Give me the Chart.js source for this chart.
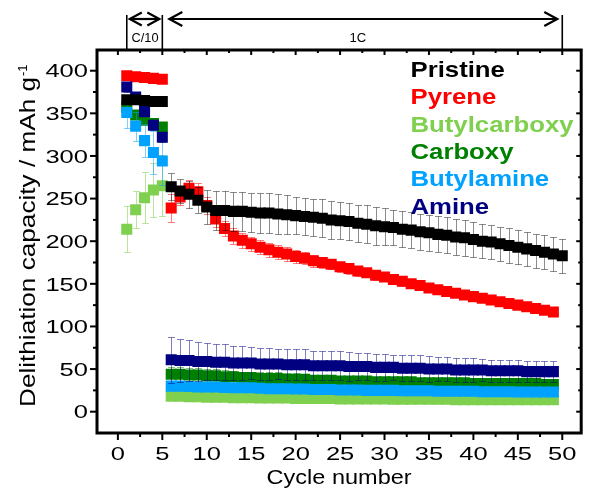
<!DOCTYPE html>
<html><head><meta charset="utf-8">
<script src="https://cdn.jsdelivr.net/npm/chart.js@4.4.1/dist/chart.umd.min.js"></script>
<style>html,body{margin:0;padding:0;background:#fff;}canvas{display:block;}</style>
</head><body>
<canvas id="c" width="589" height="488"></canvas>
<script>
// ---------- data ----------
const cycles = [1,2,3,4,5,6,7,8,9,10,11,12,13,14,15,16,17,18,19,20,21,22,23,24,25,26,27,28,29,30,31,32,33,34,35,36,37,38,39,40,41,42,43,44,45,46,47,48,49,50];

const pristine = [366,366,365,364,364, 264,259,255,248,240, 236,236,235,235,234, 233,233,232,231,230, 229,228,227,225,224, 223,221,220,218,217, 216,214,213,211,210, 208,207,205,204,202, 200,199,197,195,193, 191,189,187,185,183];
const pristineErr = [3,3,3,3,3, 16,14,16,15,20, 23,23,23,23,23, 23,23,23,23,22, 22,22,22,22,22, 22,22,22,22,22, 21,21,21,21,21, 21,21,21,21,21, 20,20,20,20,20, 20,20,20,20,20];

const pyrene = [394,393,392,391,390, 239,252,262,258,242, 226,215,206,201,197, 193,190,187,185,182, 180,177,175,173,170, 168,165,163,160,158, 155,153,150,148,145, 143,141,139,137,135, 133,131,129,127,125, 123,121,119,117];
const pyreneErr = [3,3,3,3,3, 16,10,10,10,10, 9,9,9,9,8, 8,8,8,8,8, 7,7,7,6,6, 6,6,5,5,5, 5,5,5,5,5, 4,4,4,4,4, 4,4,4,4,4, 4,4,4,4];

const butylcarboxy = [214,237,251,260,265, 18,18,17.5,17.5,17, 17,17,16.5,16.5,16.5, 16,16,16,16,15.5, 15.5,15.5,15.5,15.5,15, 15,15,15,15,15, 14.5,14.5,14.5,14.5,14.5, 14.5,14.5,14,14,14, 14,14,14,14,14, 14,14,14,14];
const butylcarboxyErr = [27,22,30,32,36, 2,2,2,2,2, 2,2,2,2,2, 2,2,2,2,2, 2,2,2,2,2, 2,2,2,2,2, 2,2,2,2,2, 2,2,2,2,2, 2,2,2,2,2, 2,2,2,2];

const carboxy = [357,348,342,338,334, 44,44,43,43,42, 42,41,41,40,40, 39,39,39,38,38, 38,37,37,37,36, 36,36,36,35,35, 35,35,35,34,34, 34,34,34,34,33, 33,33,33,33,33, 33,33,32,32];
const carboxyErr = [4,5,5,5,5, 8,8,8,8,8, 8,8,7,7,7, 7,7,7,7,7, 6,6,6,6,6, 6,6,6,6,6, 6,6,6,6,6, 5,5,5,5,5, 5,5,5,5,5, 5,5,5,5];

const butylamine = [351,335,318,304,294, 30,30,29.5,29,29, 29,28.5,28,28,28, 27.5,27,27,27,26.5, 26.5,26,26,26,25.5, 25.5,25.5,25,25,25, 25,24.5,24.5,24.5,24.5, 24,24,24,24,24, 23.5,23.5,23.5,23.5,23, 23,23,23,23];
const butylamineErr = [18,17,19,25,28, 4,4,4,4,4, 4,4,4,4,4, 4,4,4,4,4, 4,4,4,4,4, 4,4,4,4,4, 4,4,4,4,4, 4,4,4,4,4, 4,4,4,4,4, 4,4,4,4];

const amine = [381,369,352,336,322, 61,60,60,59,59, 58,58,57,57,57, 56,56,56,55,55, 55,54,54,54,54, 53,53,53,52,52, 52,51,51,51,50, 50,50,49,49,49, 49,48,48,48,48, 47,47,47,47];
const amineErr = [6,6,5,5,6, 27,25,24,23,22, 21,21,20,20,19, 19,19,18,18,18, 18,17,17,17,17, 17,16,16,16,16, 15,15,15,15,15, 14,14,14,14,14, 13,13,13,13,13, 12,12,12,12];

const legendLabels = ['Pristine','Pyrene','Butylcarboxy','Carboxy','Butylamine','Amine'];
const xTicks = [0,5,10,15,20,25,30,35,40,45,50];
const xMinorTicks = [2.5,7.5,12.5,17.5,22.5,27.5,32.5,37.5,42.5,47.5];
const yTicks = [0,50,100,150,200,250,300,350,400];
const yMinorTicks = [25,75,125,175,225,275,325,375];
const rateBounds = [1,5,50];
const rateLabels = ['C/10','1C'];
const xTitle = 'Cycle number';
const yTitle = 'Delithiation capacity / mAh g';
const yTitleSup = '-1';

// ---------- styling ----------
const COLORS = {
  Pristine: '#000000', Pyrene: '#ff0000', Butylcarboxy: '#80d050',
  Carboxy: '#008000', Butylamine: '#00a2ff', Amine: '#000080'
};
const ERR_COLORS = {
  Pristine: 'rgba(0,0,0,0.45)', Pyrene: 'rgba(255,0,0,0.5)', Butylcarboxy: 'rgba(128,208,80,0.55)',
  Carboxy: 'rgba(0,128,0,0.5)', Butylamine: 'rgba(0,162,255,0.5)', Amine: 'rgba(0,0,128,0.5)'
};
const FONT = '"Liberation Sans", Arial, Helvetica, sans-serif';

function pts(vals) { return vals.map((v, i) => ({x: cycles[i], y: v})); }
function mkDs(label, vals, errs) {
  return {
    label, data: pts(vals), errors: errs,
    backgroundColor: COLORS[label], borderColor: COLORS[label],
    pointBackgroundColor: COLORS[label], pointBorderWidth: 0, pointHoverBorderWidth: 0,
    pointStyle: 'rect', pointRadius: 7.8, pointHoverRadius: 7.8,
    showLine: false
  };
}
// dataset index 0 is drawn on top
const datasets = [
  mkDs('Pristine', pristine, pristineErr),
  mkDs('Amine', amine, amineErr),
  mkDs('Butylamine', butylamine, butylamineErr),
  mkDs('Carboxy', carboxy, carboxyErr),
  mkDs('Butylcarboxy', butylcarboxy, butylcarboxyErr),
  mkDs('Pyrene', pyrene, pyreneErr)
];

function drawStretched(ctx, text, x, y, align, sx) {
  ctx.save(); ctx.translate(x, y); ctx.scale(sx, 1);
  ctx.textAlign = align; ctx.fillText(text, 0, 0); ctx.restore();
}
function drawFit(ctx, text, x, y, align, targetW) {
  const w = ctx.measureText(text).width;
  drawStretched(ctx, text, x, y, align, targetW / w);
}

const errPlugin = {
  id: 'errbars',
  beforeDatasetDraw(chart, args) {
    const ds = chart.data.datasets[args.index];
    if (!ds.errors) return;
    const xs = chart.scales.x, ys = chart.scales.y, ctx = chart.ctx;
    ctx.save();
    ctx.strokeStyle = ERR_COLORS[ds.label]; ctx.lineWidth = 1;
    ds.data.forEach((p, i) => {
      const e = ds.errors[i]; if (!e) return;
      const x = Math.round(xs.getPixelForValue(p.x)) + 0.5;
      const y1 = Math.round(ys.getPixelForValue(p.y + e)) + 0.5;
      const y2 = Math.round(ys.getPixelForValue(p.y - e)) + 0.5;
      ctx.beginPath();
      ctx.moveTo(x, y1); ctx.lineTo(x, y2);
      ctx.moveTo(x - 3.5, y1); ctx.lineTo(x + 3.5, y1);
      ctx.moveTo(x - 3.5, y2); ctx.lineTo(x + 3.5, y2);
      ctx.stroke();
    });
    ctx.restore();
  }
};

const framePlugin = {
  id: 'frame',
  afterDraw(chart) {
    const ctx = chart.ctx, a = chart.chartArea, xs = chart.scales.x, ys = chart.scales.y;
    ctx.save();
    ctx.strokeStyle = '#000'; ctx.fillStyle = '#000';
    ctx.lineWidth = 2;
    const tick = (x1, y1, x2, y2) => { ctx.beginPath(); ctx.moveTo(x1, y1); ctx.lineTo(x2, y2); ctx.stroke(); };
    xTicks.forEach(v => { const x = xs.getPixelForValue(v); tick(x, a.bottom, x, a.bottom + 7); tick(x, a.top, x, a.top + 5); });
    xMinorTicks.forEach(v => { const x = xs.getPixelForValue(v); tick(x, a.bottom, x, a.bottom + 4); tick(x, a.top, x, a.top + 3); });
    yTicks.forEach(v => { const y = ys.getPixelForValue(v); tick(a.left, y, a.left - 7, y); tick(a.right, y, a.right - 5, y); });
    yMinorTicks.forEach(v => { const y = ys.getPixelForValue(v); tick(a.left, y, a.left - 4, y); tick(a.right, y, a.right - 3, y); });
    ctx.lineWidth = 3;
    ctx.strokeRect(a.left, a.top, a.right - a.left, a.bottom - a.top);
    // tick labels
    ctx.font = '18.5px ' + FONT; ctx.textBaseline = 'alphabetic';
    xTicks.forEach(v => drawStretched(ctx, String(v), xs.getPixelForValue(v), 460, 'center', 1.38));
    yTicks.forEach(v => drawStretched(ctx, String(v), 88, ys.getPixelForValue(v) + 6.7, 'right', 1.38));
    // axis titles
    ctx.font = '19.5px ' + FONT;
    drawFit(ctx, xTitle, (a.left + a.right) / 2, 483.5, 'center', 145);
    ctx.save();
    ctx.translate(35, 407); ctx.rotate(-Math.PI / 2);
    ctx.font = '22px ' + FONT;
    const w = ctx.measureText(yTitle).width, sx = 330 / w;
    drawStretched(ctx, yTitle, 0, 0, 'left', sx);
    ctx.font = '13px ' + FONT;
    drawStretched(ctx, yTitleSup, 331, -8, 'left', 1.0);
    ctx.restore();
    // legend
    ctx.font = 'bold 22px ' + FONT;
    const lsx = 163 / ctx.measureText('Butylcarboxy').width;
    legendLabels.forEach((lab, i) => {
      ctx.fillStyle = COLORS[lab];
      drawStretched(ctx, lab, 410.5, 77 + 27.3 * i, 'left', lsx);
    });
    // rate annotations
    ctx.fillStyle = '#000'; ctx.strokeStyle = '#000';
    const bx = rateBounds.map(v => xs.getPixelForValue(v));
    ctx.lineWidth = 1.6;
    bx.forEach(x => tick(x, 15, x, a.top));
    const arrow = (x1, x2, y, hl, hh, lw) => {
      ctx.lineWidth = lw;
      ctx.beginPath(); ctx.moveTo(x1, y); ctx.lineTo(x2, y); ctx.stroke();
      ctx.beginPath(); ctx.moveTo(x1 + hl, y - hh); ctx.lineTo(x1, y); ctx.lineTo(x1 + hl, y + hh); ctx.stroke();
      ctx.beginPath(); ctx.moveTo(x2 - hl, y - hh); ctx.lineTo(x2, y); ctx.lineTo(x2 - hl, y + hh); ctx.stroke();
    };
    ctx.lineJoin = 'miter';
    arrow(bx[0] + 3, bx[1] - 3, 19, 12, 6.5, 2.2);
    arrow(bx[1] + 7, bx[2] - 5, 19, 13, 7, 2.2);
    ctx.font = '13px ' + FONT;
    drawFit(ctx, rateLabels[0], (bx[0] + bx[1]) / 2 + 0.5, 41.5, 'center', 27);
    drawFit(ctx, rateLabels[1], xs.getPixelForValue(27), 41.5, 'center', 16.7);
    ctx.restore();
  }
};

new Chart(document.getElementById('c'), {
  type: 'scatter',
  data: { datasets },
  options: {
    responsive: false, animation: false, devicePixelRatio: 1,
    layout: { padding: { top: 50, right: 5, left: 0, bottom: 0 } },
    plugins: { legend: { display: false }, tooltip: { enabled: false } },
    scales: {
      x: {
        type: 'linear', min: -2.35, max: 52.13,
        grid: { display: false }, border: { display: false }, ticks: { display: false },
        afterFit(s) { s.height = 55; }
      },
      y: {
        type: 'linear', min: -25, max: 424.3,
        grid: { display: false }, border: { display: false }, ticks: { display: false },
        afterFit(s) { s.width = 97; }
      }
    }
  },
  plugins: [errPlugin, framePlugin]
});
</script>
</body></html>
